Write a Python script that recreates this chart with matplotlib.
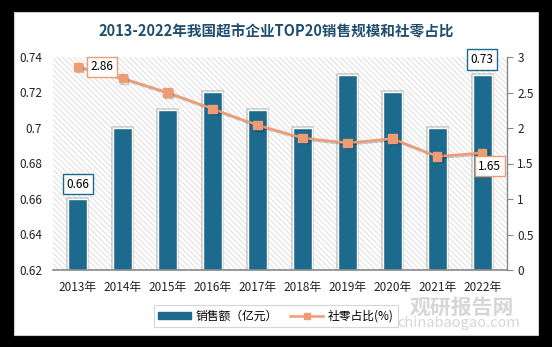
import matplotlib
matplotlib.use("Agg")
import matplotlib.pyplot as plt
from matplotlib.patches import Rectangle, Patch
from matplotlib.lines import Line2D
import matplotlib.patheffects as pe

plt.rcParams['font.family'] = ['Noto Sans CJK SC', 'DejaVu Sans']
plt.rcParams['hatch.color'] = '#dedede'
plt.rcParams['hatch.linewidth'] = 0.7

years = ['2013年', '2014年', '2015年', '2016年', '2017年', '2018年', '2019年', '2020年', '2021年', '2022年']
sales = [0.66, 0.70, 0.71, 0.72, 0.71, 0.70, 0.73, 0.72, 0.70, 0.73]
share = [2.86, 2.70, 2.50, 2.27, 2.04, 1.86, 1.79, 1.85, 1.60, 1.65]

W, H = 552, 347
fig = plt.figure(figsize=(W/100, H/100), dpi=100)
fig.patch.set_facecolor('black')
# white panel
fig.patches.append(Rectangle((14/W, 1-335/H), (538-14)/W, (335-12)/H, transform=fig.transFigure,
                             facecolor='white', edgecolor='#cccccc', lw=0.8, zorder=-5))

# watermark (behind axes)
fig.text(462/W, 1-307/H, '观研报告网', ha='center', va='center', fontsize=15, fontweight='bold',
         color='#d6d6d6', zorder=-4)
fig.text(459/W, 1-323/H, 'chinabaogao.com', ha='center', va='center', fontsize=10.5,
         color='#d6d6d6', zorder=-4)

ax = fig.add_axes([53/W, 1-270/H, (507-53)/W, (270-57)/H])
ax.set_zorder(1)
ax.patch.set_visible(False)
ax.add_patch(Rectangle((0, 0), 1, 1, transform=ax.transAxes, facecolor='white',
                       edgecolor='#dedede', hatch='\\\\\\\\\\\\', lw=0, zorder=0))

x = list(range(len(years)))
bar_color = '#1C6A8E'
ax.bar(x, [s - 0.62 for s in sales], bottom=0.62, width=0.42, color=bar_color,
       edgecolor='white', lw=1.0, zorder=3,
       path_effects=[pe.Stroke(linewidth=2.8, foreground='#a0a0a0', alpha=0.45), pe.Normal()])
ax.set_ylim(0.62, 0.74)
ax.set_xlim(-0.55, 9.55)
ax.set_yticks([0.62, 0.64, 0.66, 0.68, 0.70, 0.72, 0.74])
ax.set_yticklabels(['0.62', '0.64', '0.66', '0.68', '0.7', '0.72', '0.74'])
ax.set_xticks(x)
ax.set_xticklabels(years)
ax.tick_params(axis='both', length=0, labelsize=8.5, colors='#222222')
ax.tick_params(axis='x', pad=8)
ax.tick_params(axis='y', pad=8)
for s in ['top', 'left', 'right']:
    ax.spines[s].set_visible(False)
ax.spines['bottom'].set_color('#888888')
ax.spines['bottom'].set_linewidth(1.2)
ax.spines['bottom'].set_zorder(4)

ax2 = ax.twinx()
ax2.set_zorder(2)
ax2.patch.set_visible(False)
line_color = '#EE9C74'
ax2.plot(x, share, color=line_color, lw=1.8, marker='s', markersize=6, zorder=5,
         path_effects=[pe.SimpleLineShadow(offset=(1, -1), alpha=0.2), pe.Normal()])
ax2.set_ylim(0, 3)
ax2.set_yticks([0, 0.5, 1, 1.5, 2, 2.5, 3])
ax2.set_yticklabels(['0', '0.5', '1', '1.5', '2', '2.5', '3'])
ax2.tick_params(axis='y', length=4, labelsize=8.5, colors='#222222', color='#888888')
for s in ['top', 'left', 'bottom']:
    ax2.spines[s].set_visible(False)
ax2.spines['right'].set_color('#888888')
ax2.spines['right'].set_linewidth(1.0)

# data labels
ax.annotate(f'{sales[0]:.2f}', (0, sales[0]), xytext=(0, 10.5), textcoords='offset points',
            ha='center', va='center', fontsize=8.5, zorder=6, annotation_clip=False,
            bbox=dict(boxstyle='square,pad=0.3', fc='white', ec=bar_color, lw=1))
ax.annotate(f'{sales[-1]:.2f}', (9, sales[-1]), xytext=(0, 11), textcoords='offset points',
            ha='center', va='center', fontsize=8.5, zorder=6, annotation_clip=False,
            bbox=dict(boxstyle='square,pad=0.3', fc='white', ec=bar_color, lw=1))
ax2.annotate(f'{share[0]:.2f}', (0, share[0]), xytext=(17.5, 0), textcoords='offset points',
             ha='center', va='center', fontsize=8.5, zorder=7,
             bbox=dict(boxstyle='square,pad=0.3', fc='white', ec=line_color, lw=1))
ax2.annotate(f'{share[-1]:.2f}', (9, share[-1]), xytext=(5.4, -9.7), textcoords='offset points',
             ha='center', va='center', fontsize=8.5, zorder=7,
             bbox=dict(boxstyle='square,pad=0.3', fc='white', ec=line_color, lw=1))

fig.text(0.5, 1-32/H, '2013-2022年我国超市企业TOP20销售规模和社零占比', ha='center', va='center',
         fontsize=10.5, fontweight='bold', color='#1F4E6E')

handles = [Patch(facecolor=bar_color, edgecolor=bar_color),
           Line2D([0], [0], color=line_color, lw=1.8, marker='s', markersize=5)]
leg = fig.legend(handles, ['销售额（亿元）', '社零占比(%)'], loc='center', bbox_to_anchor=(276/W, 1-316/H),
                 ncol=2, frameon=True, fontsize=8.5, handlelength=2.8, handleheight=0.6,
                 columnspacing=1.0, handletextpad=0.4, borderpad=0.35, fancybox=False)
leg.get_frame().set_edgecolor('#cccccc')
leg.get_frame().set_linewidth(0.8)

fig.savefig('out.png', dpi=100, facecolor=fig.get_facecolor())
